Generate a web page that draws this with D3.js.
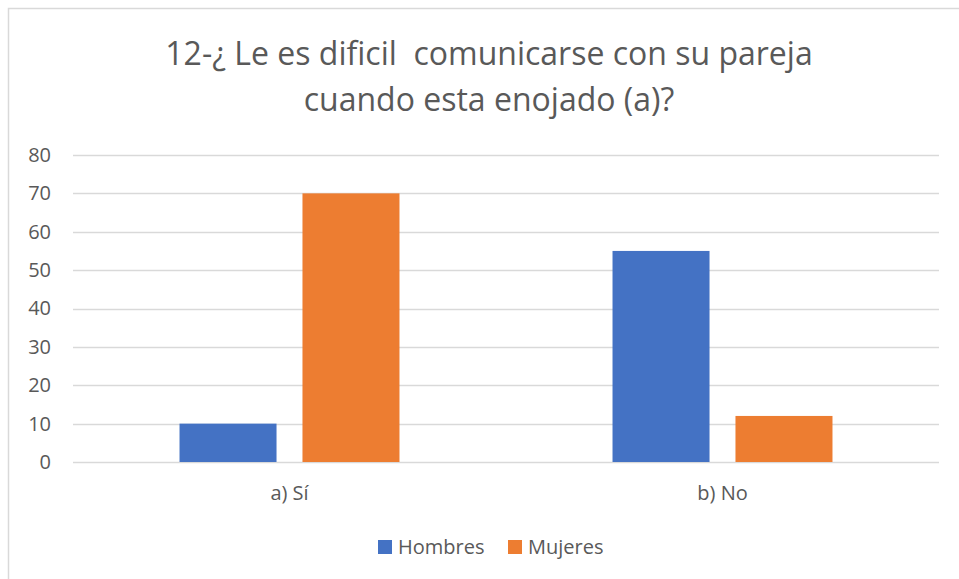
<!DOCTYPE html>
<html><head><meta charset="utf-8">
<script src="https://cdn.jsdelivr.net/npm/d3@7"></script>
<style>body{margin:0;background:#fff}svg{display:block}</style>
</head><body>
<svg id="c" width="959" height="579"></svg>
<script>
const categories = ["a) Sí", "b) No"];
const seriesNames = ["Hombres", "Mujeres"];
const hombres = [10, 55];
const mujeres = [70, 12];
const yTicks = [0, 10, 20, 30, 40, 50, 60, 70, 80];
const titleLines = ["12-¿ Le es dificil  comunicarse con su pareja", "cuando esta enojado (a)?"];
const colors = ["#4472C4", "#ED7D31"];

(function () {
const svg = d3.select("#c");
const font = "'Open Sans', 'Liberation Sans', sans-serif";
const textColor = "#595959";

svg.append("rect").attr("x", 8.5).attr("y", 8.5).attr("width", 959).attr("height", 579)
  .attr("fill", "#fff").attr("stroke", "#d9d9d9").attr("stroke-width", 1.5);

svg.append("g").selectAll("text").data(titleLines).join("text")
  .attr("x", 489).attr("y", (d, i) => 65 + i * 46)
  .attr("text-anchor", "middle").attr("font-family", font)
  .attr("font-size", 32).attr("fill", textColor)
  .attr("xml:space", "preserve").style("white-space", "pre").text(d => d);

const pLeft = 73, pRight = 939, pTop = 155, pBottom = 462;
const y = d3.scaleLinear().domain([0, 80]).range([pBottom, pTop]);
const x0 = d3.scaleBand().domain(categories).range([pLeft, pRight]).paddingInner(0.492).paddingOuter(0.246);
const x1 = d3.scaleBand().domain(seriesNames).range([0, x0.bandwidth()]).paddingInner(0.211);

svg.append("g").selectAll("line").data(yTicks).join("line")
  .attr("x1", pLeft).attr("x2", pRight)
  .attr("y1", d => Math.round(y(d)) + 0.5).attr("y2", d => Math.round(y(d)) + 0.5)
  .attr("stroke", "#d9d9d9").attr("stroke-width", 1.3);

const yAxis = svg.append("g").attr("transform", `translate(${pLeft - 22},0)`)
  .call(d3.axisLeft(y).tickValues(yTicks).tickSize(0).tickPadding(0));
yAxis.select(".domain").remove();
yAxis.selectAll("text").attr("font-family", font).attr("font-size", 20).attr("fill", textColor);

const data = categories.map((c, i) => ({ c, vals: [hombres[i], mujeres[i]] }));
const groups = svg.append("g").selectAll("g").data(data).join("g")
  .attr("transform", d => `translate(${x0(d.c)},0)`);
groups.selectAll("rect").data(d => d.vals.map((v, j) => ({ v, s: seriesNames[j], j })))
  .join("rect")
  .attr("x", d => x1(d.s)).attr("width", x1.bandwidth())
  .attr("y", d => y(d.v)).attr("height", d => y(0) - y(d.v))
  .attr("fill", d => colors[d.j]);

const xAxis = svg.append("g").attr("transform", `translate(0,${pBottom})`)
  .call(d3.axisBottom(x0).tickSize(0).tickPadding(0));
xAxis.select(".domain").remove();
xAxis.selectAll("text").attr("font-family", font).attr("font-size", 20).attr("fill", textColor)
  .attr("dy", null).attr("y", 38);

const legendX = [378, 508];
const lg = svg.append("g").selectAll("g").data(seriesNames).join("g")
  .attr("transform", (d, i) => `translate(${legendX[i]},540)`);
lg.append("rect").attr("width", 14).attr("height", 14).attr("fill", (d, i) => colors[i]);
lg.append("text").attr("x", 20).attr("y", 14).attr("font-family", font).attr("font-size", 20)
  .attr("fill", textColor).text(d => d);
})();
</script>
</body></html>
